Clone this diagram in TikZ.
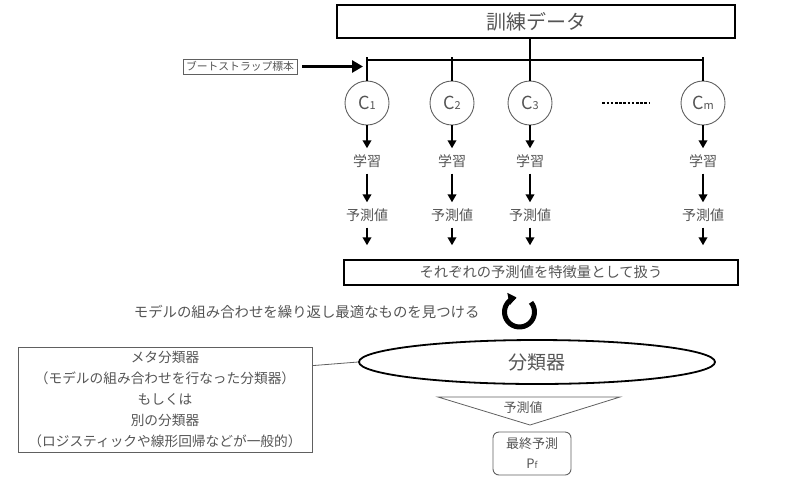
\documentclass[tikz,border=0pt]{standalone}
\usepackage{fontspec}
\setmainfont{Noto Sans CJK JP}
\usetikzlibrary{arrows.meta,shapes.geometric,calc}
\definecolor{txt}{HTML}{555555}
\definecolor{edge}{HTML}{606060}
\newcommand{\fs}[1]{\fontsize{#1}{#1}\selectfont}
\begin{document}
\begin{tikzpicture}[x=1pt,y=-1pt,
  every node/.style={text=txt},
  bigbox/.style={draw=black,line width=1.4pt,inner sep=0pt},
  cnode/.style={circle,draw=edge,line width=0.9pt,minimum size=44pt,inner sep=0pt,font=\fs{18}},
  lbl/.style={font=\fs{14},inner xsep=2pt,inner ysep=6pt},
  arr/.style={line width=2pt,-{Triangle[length=8pt,width=8.5pt]}},
  barline/.style={line width=2pt}]
\useasboundingbox (0,0) rectangle (800,483);

% training data
\node[bigbox,minimum width=398pt,minimum height=33pt,font=\fs{20}] (data) at (536,21.5) {訓練データ};

% classifiers
\node[cnode] (c1) at (367,103) {C{\fs{11}1}};
\node[cnode] (c2) at (452,103) {C{\fs{11}2}};
\node[cnode] (c3) at (530,103) {C{\fs{11}3}};
\node[cnode] (cm) at (703,103) {C{\fs{11}m}};

\coordinate (t1) at (367,57);
\coordinate (t2) at (452,57);
\coordinate (tm) at (703,57);
\coordinate (bar1) at (367,60);
\coordinate (barm) at (703,60);

\draw[barline] (bar1) -- (barm);
\draw[barline] (data.south -| c3) -- (c3.north);
\draw[barline] (t1) -- (c1.north);
\draw[barline] (t2) -- (c2.north);
\draw[barline] (tm) -- (cm.north);

\draw[line width=1.2pt,dash pattern=on 2.6pt off 1.6pt,shorten <=50pt,shorten >=31pt] (c3.east) -- (cm.west);

% bootstrap
\node[draw=edge,line width=0.8pt,minimum width=114pt,minimum height=15pt,inner sep=0.5pt,font=\fs{10.8}] (bs) at (240,66.5) {ブートストラップ標本};
\draw[line width=3pt,-{Triangle[length=11pt,width=12pt]},shorten <=5pt,shorten >=4pt] (bs.east) -- (bs.east -| t1);

% learning / prediction
\foreach \c in {c1,c2,c3,cm}{
  \node[lbl] (l\c) at ($(\c)+(0,58)$) {学習};
  \node[lbl] (p\c) at ($(\c)+(0,112)$) {予測値};
  \draw[arr] (\c.south) -- (l\c.north);
  \draw[arr] (l\c.south) -- (p\c.north);
}

% feature box
\node[bigbox,minimum width=394pt,minimum height=25pt,font=\fs{14.3}] (feat) at (541,272.5) {それぞれの予測値を特徴量として扱う};
\foreach \c in {c1,c2,c3,cm}{
  \draw[arr,shorten >=14pt] (p\c.south) -- (p\c.south |- feat.north);
}

% loop icon (y axis is flipped: visual angle a is tikz angle -a)
\coordinate (loop) at (519.5,312);
\draw[line width=5pt,-{Triangle[length=8pt,width=12pt]}] ($(loop)+(-40:15)$) arc[start angle=-40,end angle=258,radius=15];
\node[font=\fs{14.4},anchor=east] (rep) at (483,312) {モデルの組み合わせを繰り返し最適なものを見つける};

% classifier ellipse
\node[ellipse,draw=black,line width=1.8pt,minimum width=356pt,minimum height=44pt,inner sep=0pt,font=\fs{19}] (cls) at (537,362) {分類器};

% meta box
\node[draw=edge,line width=0.9pt,minimum width=294pt,minimum height=105pt,inner sep=0pt,align=center,font=\fontsize{13.7}{21}\selectfont] (meta) at (165,399.5)
 {メタ分類器\\（モデルの組み合わせを行なった分類器）\\もしくは\\別の分類器\\（ロジスティックや線形回帰などが一般的）};
\draw[edge,line width=0.8pt] ($(meta.north east)!0.18!(meta.south east)$) -- (cls.west);

% triangle
\coordinate (ta) at (438,397);
\coordinate (tb) at (620,397);
\coordinate (tc) at (530,425);
\draw[edge,line width=0.8pt] (ta) -- (tb) -- (tc) -- cycle;
\node[font=\fs{13}] (tp) at (523,408) {予測値};

% final
\node[draw=edge,line width=0.9pt,rounded corners=6pt,minimum width=78pt,minimum height=43pt,inner sep=0pt,align=center,font=\fontsize{13}{20}\selectfont] (fin) at (532,453.5) {最終予測\\P{\fs{9}f}};
\end{tikzpicture}
\end{document}
